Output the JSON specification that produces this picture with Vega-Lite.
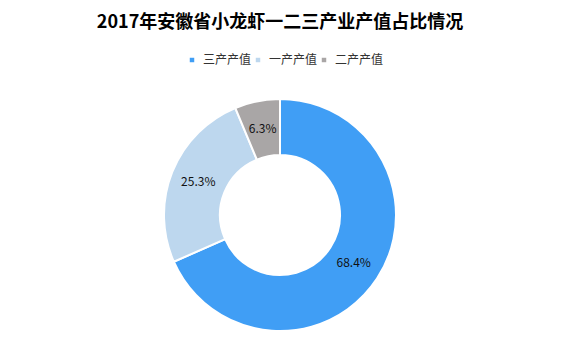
{
  "$schema": "https://vega.github.io/schema/vega-lite/v6.json",
  "width": 560,
  "height": 250,
  "autosize": "none",
  "padding": {"top": 90, "left": 0, "right": 4, "bottom": 0},
  "background": "white",
  "title": {
    "text": "2017年安徽省小龙虾一二三产业产值占比情况",
    "font": "Noto Sans CJK SC",
    "fontSize": 18,
    "fontWeight": "bold",
    "color": "#000000",
    "anchor": "middle",
    "offset": 22
  },
  "data": {
    "values": [
      {"category": "三产产值", "value": 68.4, "order": 1, "label": "68.4%"},
      {"category": "一产产值", "value": 25.3, "order": 2, "label": "25.3%"},
      {"category": "二产产值", "value": 6.3, "order": 3, "label": "6.3%"}
    ]
  },
  "encoding": {
    "theta": {"field": "value", "type": "quantitative", "stack": true},
    "order": {"field": "order", "type": "quantitative"}
  },
  "layer": [
    {
      "mark": {"type": "arc", "outerRadius": 116, "innerRadius": 60, "stroke": "white", "strokeWidth": 2},
      "encoding": {
        "color": {
          "field": "category",
          "type": "nominal",
          "sort": ["三产产值", "一产产值", "二产产值"],
          "scale": {"domain": ["三产产值", "一产产值", "二产产值"], "range": ["#409EF5", "#BDD7EE", "#A9A6A6"]},
          "legend": {
            "orient": "none",
            "legendX": 186,
            "legendY": -36,
            "direction": "horizontal",
            "title": null,
            "symbolType": "square",
            "symbolSize": 20,
            "symbolStrokeWidth": 0,
            "labelFont": "Noto Sans CJK SC",
            "labelFontSize": 12,
            "labelColor": "#333333",
            "labelOffset": 5,
            "columnPadding": 0
          }
        }
      }
    },
    {
      "mark": {"type": "text", "radius": 88, "font": "Noto Sans CJK SC", "fontSize": 12, "color": "#111111"},
      "encoding": {"text": {"field": "label", "type": "nominal"}}
    }
  ],
  "config": {"view": {"stroke": null}}
}
